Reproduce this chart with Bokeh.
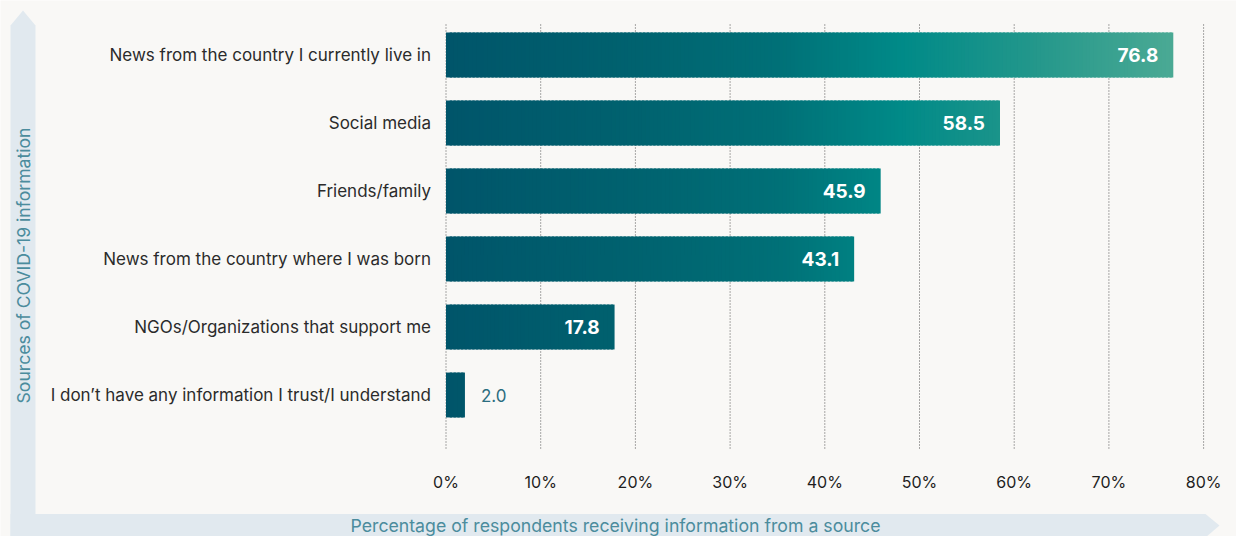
import numpy as np
from bokeh.plotting import figure
from bokeh.models import ColumnDataSource, Label, PolyAnnotation, Range1d
from bokeh.core.properties import value
from bokeh.embed import file_html
from bokeh.resources import INLINE

# ---------------- data ----------------
categories = [
    "News from the country I currently live in",
    "Social media",
    "Friends/family",
    "News from the country where I was born",
    "NGOs/Organizations that support me",
    "I don\u2019t have any information I trust/I understand",
]
values = [76.8, 58.5, 45.9, 43.1, 17.8, 2.0]
x_ticks = [0, 10, 20, 30, 40, 50, 60, 70, 80]
x_tick_labels = ["0%", "10%", "20%", "30%", "40%", "50%", "60%", "70%", "80%"]
y_title = "Sources of COVID-19 information"
x_title = "Percentage of respondents receiving information from a source"

# ---------------- style ----------------
W, H = 1236, 536
BG = "#f9f8f6"
BAND = "#e1e9ef"
TITLE_COL = "#4b8c9d"
FONT = "Inter"
grad_pos = [0, 20, 35, 48, 62, 78]
grad_col = ["#00556a", "#00626f", "#007077", "#008a88", "#23978b", "#4eab95"]


def hex2rgb(h):
    h = h.lstrip("#")
    return [int(h[i:i + 2], 16) for i in (0, 2, 4)]


grad_rgb = np.array([hex2rgb(c) for c in grad_col], dtype=float)


def grad(x):
    r = [int(round(np.interp(x, grad_pos, grad_rgb[:, k]))) for k in range(3)]
    return "#%02x%02x%02x" % tuple(r)


n = len(categories)
ypos = [n - 1 - i for i in range(n)]
bar_h = 0.66

# layout of the scales (pixels -> data)
px_per_pct = 9.47
zero_px = 445.5
px_per_row = 68.0
top_row_px = 54.5
x0 = -zero_px / px_per_pct
x1 = (W - zero_px) / px_per_pct
y_top = (n - 1) + top_row_px / px_per_row
y_bot = y_top - H / px_per_row
grid_hi = y_top - 22 / px_per_row
grid_lo = y_top - 448 / px_per_row

# gradient slices derived from bar values (slightly overlapping to avoid seams)
step = 0.4
L, R, B, T, C = [], [], [], [], []
for v, y in zip(values, ypos):
    k = max(1, int(np.ceil(v / step)))
    edges = np.linspace(0, v, k + 1)
    for a, b in zip(edges[:-1], edges[1:]):
        L.append(a); R.append(min(v, b + step * 0.6))
        B.append(y - bar_h / 2); T.append(y + bar_h / 2)
        C.append(grad((a + b) / 2))
slices = ColumnDataSource(dict(left=L, right=R, bottom=B, top=T, color=C))

p = figure(width=W, height=H, output_backend="svg", toolbar_location=None,
           x_range=Range1d(x0, x1), y_range=Range1d(y_bot, y_top),
           x_axis_location=None, y_axis_location=None,
           min_border=0, min_border_left=0, min_border_right=0,
           min_border_top=0, min_border_bottom=0,
           background_fill_color=BG, border_fill_color=BG, outline_line_color=None)
p.xgrid.visible = False
p.ygrid.visible = False

# decorative arrow bands (canvas pixels)
p.add_layout(PolyAnnotation(xs=[10, 10, 22.5, 35, 35], ys=[540, 25, 10, 25, 540],
                            xs_units="canvas", ys_units="canvas",
                            fill_color=BAND, fill_alpha=1, line_color=None, level="underlay"))
p.add_layout(PolyAnnotation(xs=[10, 1205, 1219, 1205, 10], ys=[513.5, 513.5, 525, 537, 537],
                            xs_units="canvas", ys_units="canvas",
                            fill_color=BAND, fill_alpha=1, line_color=None, level="underlay"))

# dotted vertical gridlines
p.segment(x0=x_ticks, y0=[grid_lo] * len(x_ticks), x1=x_ticks, y1=[grid_hi] * len(x_ticks),
          line_color="#555555", line_dash="1 2", line_width=1)

# bars
p.quad(left="left", right="right", bottom="bottom", top="top", source=slices,
       fill_color="color", line_color=None)

# tick labels
p.text(x=x_ticks, y=[grid_lo] * len(x_ticks), text=x_tick_labels, y_offset=33,
       text_align="center", text_baseline="middle", text_color="#1e1e1e",
       text_font=value(FONT), text_font_size="16px")

# category labels
p.text(x=[0] * n, y=ypos, text=categories, x_offset=-15, text_align="right",
       text_baseline="middle", text_color="#2b2b2b", text_font=value(FONT),
       text_font_size="17px")

# value labels
inside = [i for i, v in enumerate(values) if v >= 10]
outside = [i for i, v in enumerate(values) if v < 10]
src_in = ColumnDataSource(dict(x=[values[i] for i in inside], y=[ypos[i] for i in inside],
                               t=["%.1f" % values[i] for i in inside]))
src_out = ColumnDataSource(dict(x=[values[i] for i in outside], y=[ypos[i] for i in outside],
                                t=["%.1f" % values[i] for i in outside]))
p.text(x="x", y="y", text="t", source=src_in, x_offset=-15, text_align="right",
       text_baseline="middle", text_color="white", text_font=value(FONT),
       text_font_style="bold", text_font_size="19px")
p.text(x="x", y="y", text="t", source=src_out, x_offset=16, text_align="left",
       text_baseline="middle", text_color="#2b6d7f", text_font=value(FONT),
       text_font_size="17px")

# axis titles
p.add_layout(Label(x=22.5, y=265, x_units="canvas", y_units="canvas", text=y_title,
                   angle=np.pi / 2, text_align="center", text_baseline="middle",
                   text_color=TITLE_COL, text_font=FONT, text_font_size="17.6px"))
p.add_layout(Label(x=615, y=525, x_units="canvas", y_units="canvas", text=x_title,
                   text_align="center", text_baseline="middle",
                   text_color=TITLE_COL, text_font=FONT, text_font_size="17.7px"))

open("out.html", "w").write(file_html(p, INLINE))
